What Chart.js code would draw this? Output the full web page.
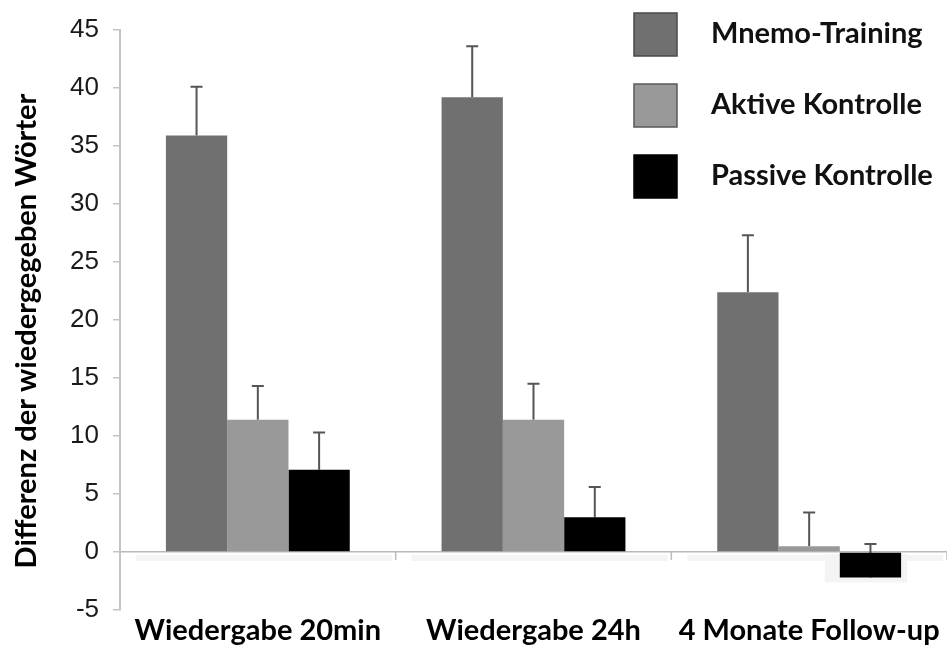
<!DOCTYPE html>
<html>
<head>
<meta charset="utf-8">
<script src="https://cdn.jsdelivr.net/npm/chart.js@4.4.1/dist/chart.umd.min.js"></script>
<style>
  html, body { margin: 0; padding: 0; background: #ffffff; }
  #wrap { width: 947px; height: 646px; }
</style>
</head>
<body>
<div id="wrap"><canvas id="c" width="947" height="646"></canvas></div>
<script>
// Recall data: difference in recalled words per group and test time
const categories = ['Wiedergabe 20min', 'Wiedergabe 24h', '4 Monate Follow-up'];
const seriesNames = ['Mnemo-Training', 'Aktive Kontrolle', 'Passive Kontrolle'];
const mnemoTraining = [35.9, 39.2, 22.4];
const aktiveKontrolle = [11.4, 11.4, 0.5];
const passiveKontrolle = [7.1, 3.0, -2.2];
// upper error bar lengths
const mnemoError = [4.2, 4.4, 4.9];
const aktiveError = [2.9, 3.1, 2.9];
const passiveError = [3.2, 2.6, 2.9];
const yTickValues = [-5, 0, 5, 10, 15, 20, 25, 30, 35, 40, 45];
const yTitle = 'Differenz der wiedergegeben Wörter';

const seriesColors = ['#707070', '#999999', '#000000'];
const legendBorders = ['#4a4a4a', '#5a5a5a', '#000000'];
const errorValues = [mnemoError, aktiveError, passiveError];

const labelFont = 'Lato, "Open Sans", sans-serif';

// Error bars are drawn beneath the bars so a bar hides the part inside it
const errorBarPlugin = {
  id: 'errorBars',
  beforeDatasetsDraw(chart) {
    const ctx = chart.ctx;
    const y = chart.scales.y;
    ctx.save();
    ctx.strokeStyle = '#555555';
    ctx.lineWidth = 2;
    chart.data.datasets.forEach((ds, di) => {
      const meta = chart.getDatasetMeta(di);
      meta.data.forEach((el, i) => {
        const v = ds.data[i];
        const top = y.getPixelForValue(v + errorValues[di][i]);
        const base = y.getPixelForValue(v);
        ctx.beginPath();
        ctx.moveTo(el.x, base);
        ctx.lineTo(el.x, top);
        ctx.moveTo(el.x - 6, top);
        ctx.lineTo(el.x + 6, top);
        ctx.stroke();
      });
    });
    ctx.restore();
  }
};

// Faint shadow under the zero line, shadow behind negative bars, category tick marks
const baselinePlugin = {
  id: 'baseline',
  beforeDatasetsDraw(chart) {
    const ctx = chart.ctx;
    const x = chart.scales.x;
    const y = chart.scales.y;
    const zero = y.getPixelForValue(0);
    ctx.save();
    ctx.fillStyle = '#f4f4f4';
    categories.forEach((c, i) => {
      const l = x.getPixelForValue(i - 0.5);
      const r = x.getPixelForValue(i + 0.5);
      ctx.fillRect(l + 16, zero + 3, r - l - 20, 6);
    });
    chart.data.datasets.forEach((ds, di) => {
      chart.getDatasetMeta(di).data.forEach((el, i) => {
        if (ds.data[i] < 0) {
          const half = el.width / 2;
          ctx.fillRect(el.x - half - 15, zero + 2, el.width + 21, el.y - zero + 3);
        }
      });
    });
    ctx.strokeStyle = '#bdbdbd';
    ctx.lineWidth = 1.5;
    for (let i = 0; i < categories.length; i++) {
      const bx = x.getPixelForValue(i + 0.5);
      ctx.beginPath();
      ctx.moveTo(bx, zero);
      ctx.lineTo(bx, zero + 8);
      ctx.stroke();
    }
    ctx.restore();
  }
};

// Legend in the upper right of the plot and the rotated y-axis title
const annotationPlugin = {
  id: 'annotations',
  afterDraw(chart) {
    const ctx = chart.ctx;
    ctx.save();
    chart.data.datasets.forEach((ds, i) => {
      const cy = 34 + i * 71;
      ctx.fillStyle = ds.backgroundColor;
      ctx.fillRect(634, cy - 21, 43, 43);
      ctx.strokeStyle = legendBorders[i];
      ctx.lineWidth = 1.5;
      ctx.strokeRect(634, cy - 21, 43, 43);
      ctx.fillStyle = '#111111';
      ctx.font = 'bold 29px ' + labelFont;
      ctx.textAlign = 'left';
      ctx.textBaseline = 'middle';
      ctx.fillText(ds.label, 711, cy);
    });
    ctx.translate(27, 331);
    ctx.rotate(-Math.PI / 2);
    ctx.font = 'bold 29px ' + labelFont;
    ctx.fillStyle = '#000000';
    ctx.textAlign = 'center';
    ctx.textBaseline = 'middle';
    ctx.fillText(yTitle, 0, 0);
    ctx.restore();
  }
};

new Chart(document.getElementById('c'), {
  type: 'bar',
  data: {
    labels: categories,
    datasets: [
      { label: seriesNames[0], data: mnemoTraining, backgroundColor: seriesColors[0] },
      { label: seriesNames[1], data: aktiveKontrolle, backgroundColor: seriesColors[1] },
      { label: seriesNames[2], data: passiveKontrolle, backgroundColor: seriesColors[2] }
    ]
  },
  options: {
    responsive: false,
    animation: false,
    devicePixelRatio: 1,
    layout: { padding: { top: 30, right: 0, bottom: 0, left: 0 } },
    datasets: { bar: { barPercentage: 1, categoryPercentage: 0.667, borderWidth: 0 } },
    plugins: {
      legend: { display: false },
      tooltip: { enabled: false }
    },
    scales: {
      x: {
        grid: { display: false, drawTicks: false },
        border: { display: false },
        ticks: {
          color: '#000000',
          font: { family: labelFont, size: 29, weight: 'bold' },
          padding: 3,
          maxRotation: 0,
          autoSkip: false
        },
        afterFit(scale) { scale.height = 36; }
      },
      y: {
        min: -5,
        max: 45,
        afterBuildTicks(scale) { scale.ticks = yTickValues.map(v => ({ value: v })); },
        grid: {
          color: (c) => (c.tick && c.tick.value === 0 ? '#b8b8b8' : 'rgba(0,0,0,0)'),
          lineWidth: 1.5,
          tickColor: '#c4c4c4',
          tickLength: 7
        },
        border: { display: true, color: '#c4c4c4', width: 2 },
        ticks: {
          color: '#1a1a1a',
          font: { family: '"Liberation Sans", Arial, sans-serif', size: 26 },
          padding: 14
        },
        afterFit(scale) { scale.width = 120; }
      }
    }
  },
  plugins: [baselinePlugin, errorBarPlugin, annotationPlugin]
});
</script>
</body>
</html>
